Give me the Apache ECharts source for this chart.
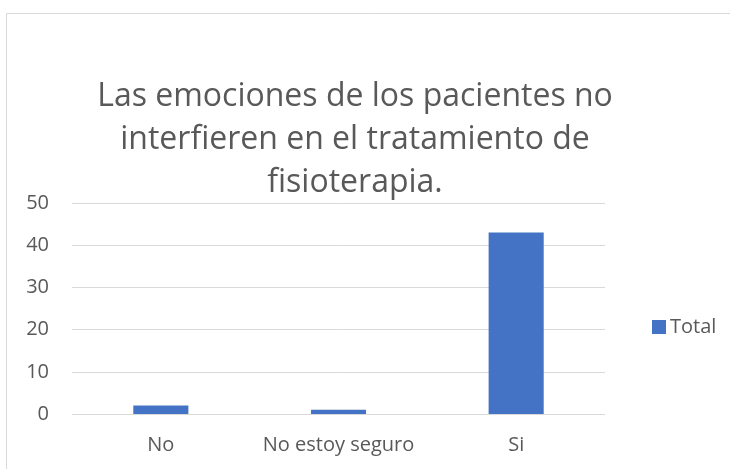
<!DOCTYPE html>
<html>
<head>
<meta charset="utf-8">
<script src="https://cdn.jsdelivr.net/npm/echarts@6/dist/echarts.min.js"></script>
<style>
html,body{margin:0;padding:0;background:#fff;}
#main{width:730px;height:469px;}
</style>
</head>
<body>
<div id="main"></div>
<script>
//图表数据
var categories = ['No', 'No estoy seguro', 'Si'];
var totalValues = [2, 1, 43];
var yTicks = [0, 10, 20, 30, 40, 50];
var seriesName = 'Total';
var titleText = 'Las emociones de los pacientes no\ninterfieren en el tratamiento de\nfisioterapia.';

var myChart = echarts.init(document.getElementById('main'));
var option = {
    backgroundColor: '#fff',
    textStyle: {fontFamily: 'Open Sans'},
    title: {
        text: titleText,
        left: 350,
        top: 70,
        textAlign: 'center',
        textStyle: {
            fontFamily: 'Open Sans',
            fontSize: 32,
            fontWeight: 'normal',
            color: '#595959',
            lineHeight: 43
        }
    },
    graphic: [{
        type: 'rect',
        shape: {x: 6.5, y: 13.5, width: 740, height: 470},
        style: {fill: 'none', stroke: '#d9d9d9', lineWidth: 1},
        z: -1
    }],
    legend: {
        data: [{name: seriesName, icon: 'rect'}],
        left: 647,
        top: 312,
        orient: 'vertical',
        itemWidth: 14,
        itemHeight: 14,
        itemGap: 5,
        textStyle: {fontSize: 20, color: '#595959', fontFamily: 'Open Sans', padding: [0, 0, 0, -1]}
    },
    grid: {left: 72, right: 125, top: 203, bottom: 55},
    xAxis: {
        type: 'category',
        data: categories,
        axisLine: {show: false},
        axisTick: {show: false},
        axisLabel: {interval: 0, fontSize: 20, color: '#595959', margin: 21, fontFamily: 'Open Sans'}
    },
    yAxis: {
        type: 'value',
        min: yTicks[0],
        max: yTicks[yTicks.length - 1],
        interval: 10,
        axisLine: {show: false},
        axisTick: {show: false},
        axisLabel: {fontSize: 20, color: '#595959', margin: 23, fontFamily: 'Open Sans'},
        splitLine: {lineStyle: {color: '#d9d9d9', width: 1}}
    },
    series: [{
        name: seriesName,
        type: 'bar',
        data: totalValues,
        barWidth: '31%',
        itemStyle: {color: '#4472c4'}
    }]
};
myChart.setOption(option);
</script>
</body>
</html>
